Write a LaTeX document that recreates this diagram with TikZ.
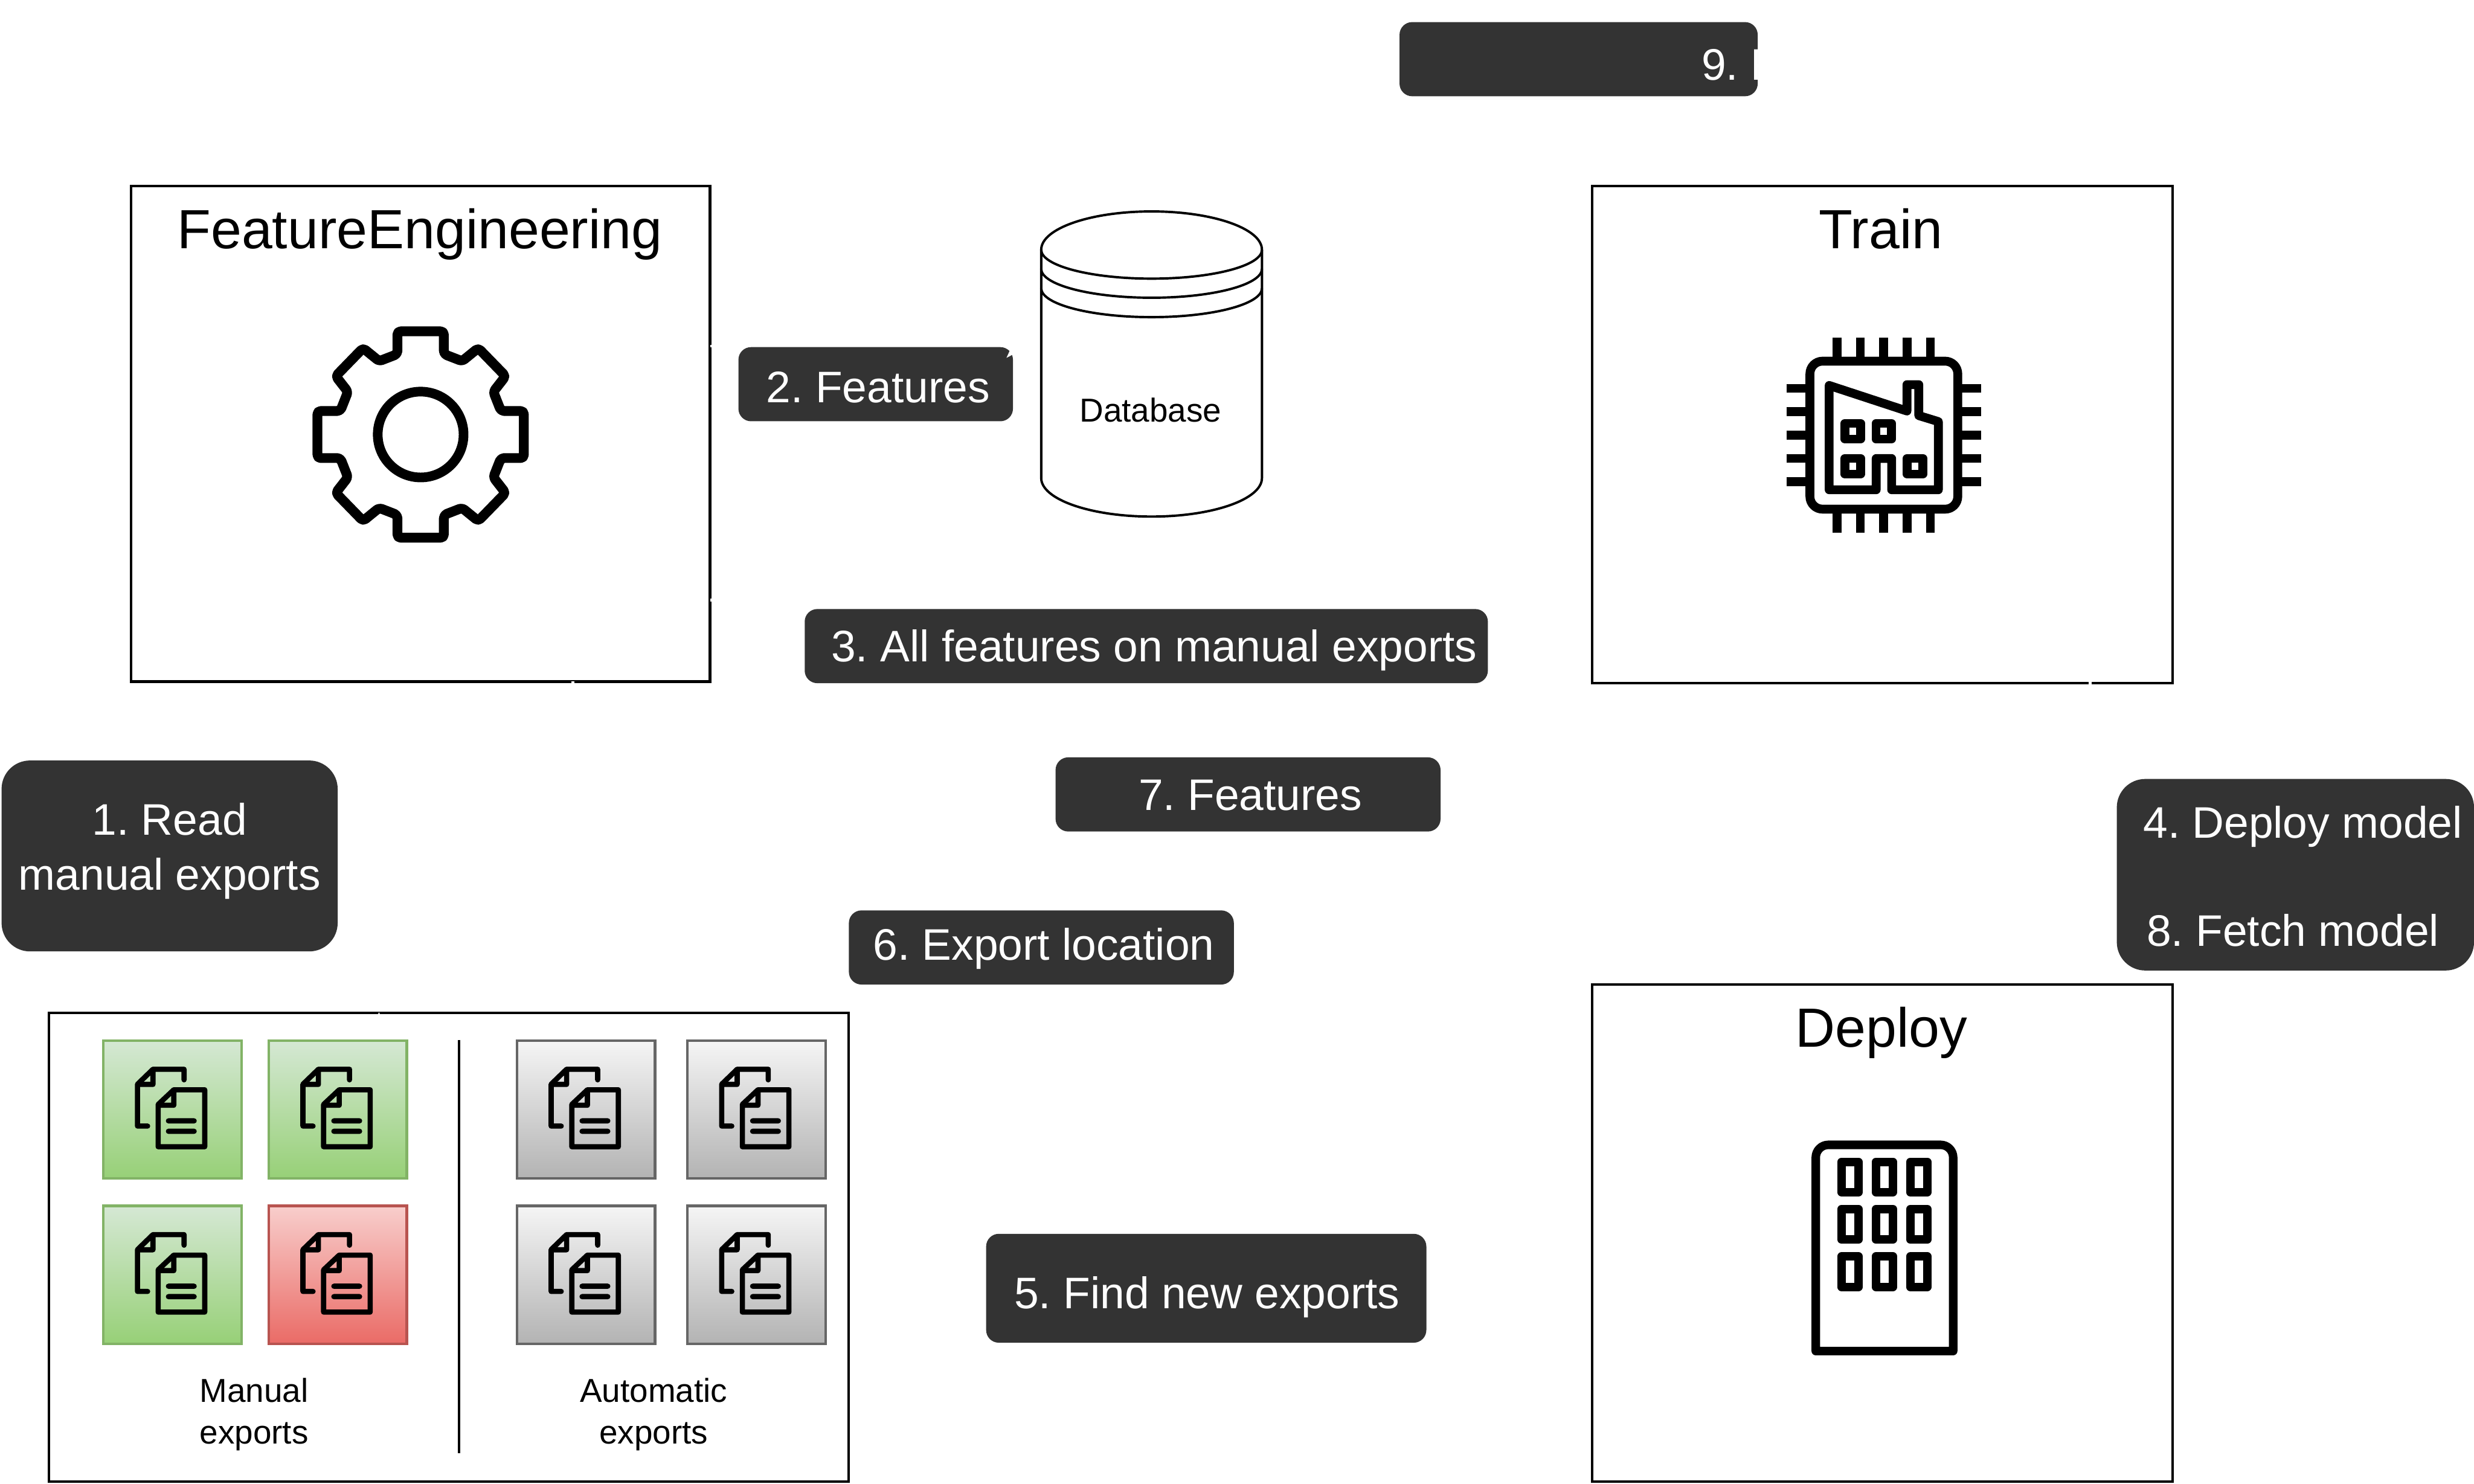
\documentclass[tikz,border=0pt]{standalone}
\usepackage{fontspec}
\setmainfont{Liberation Sans}
\frenchspacing
\definecolor{labelgray}{HTML}{333333}
\tikzset{
  docs/.pic={
    \draw[line width=3.3pt, line join=round, line cap=round, fill=none]
      (7.4,-18.8) -- (7.4,-25.5) -- (-12.3,-25.5) -- (-22.1,-16) -- (-22.1,10.5) -- (-15.7,10.5)
      (-12.3,-25.5) -- (-12.3,-15.9) -- (-22.1,-15.9)
      (-9,-3.2) -- (0.9,-12.5) -- (20.5,-12.5) -- (20.5,23.6) -- (-9,23.6) -- cycle
      (0.9,-12.5) -- (0.9,-2.7) -- (-9,-2.7)
      (-2.5,7.2) -- (13.8,7.2) (-2.5,13.8) -- (13.8,13.8);
  }
}
\begin{document}
\begin{tikzpicture}[x=1pt, y=-1pt,
    frame/.style={draw=black, line width=1.6pt, inner sep=0pt, outer sep=0pt},
    title/.style={anchor=base, inner sep=0pt, font=\fontsize{35}{42}\selectfont},
    small/.style={font=\fontsize{21}{26.5}\selectfont, align=center},
    stepbox/.style={fill=labelgray, rounded corners=8pt, inner sep=0pt, outer sep=0pt},
    steptext/.style={text=white, anchor=base, inner sep=0pt, font=\fontsize{28}{35}\selectfont},
    tile/.style={draw=#1, line width=1.6pt, minimum size=87.5pt, inner sep=0pt, outer sep=0pt},
    icon/.style={line width=5.6pt, line join=round}]
  \useasboundingbox (0,0) rectangle (1568,940.4);

  % boxes
  \node[frame, minimum width=367pt, minimum height=314pt] (fe) at (266.5,275) {};
  \node[frame, minimum width=368pt, minimum height=315pt] (train) at (1193,275.5) {};
  \node[frame, minimum width=368pt, minimum height=315pt] (deploy) at (1193,781.5) {};
  \node[frame, minimum width=507pt, minimum height=297pt] (exports) at (284.5,790.5) {};
  \node[title] (fetitle) at (266,157.5) {FeatureEngineering};
  \node[title] (traintitle) at (1192,157.5) {Train};
  \node[title] (deploytitle) at (1192.3,663.7) {Deploy};
  % small gaps in the frames
  \fill[white] (450.1,218.5) rectangle (451.1,220.3);
  \fill[white] (450.1,379.3) rectangle (451.1,381.1);
  \fill[white] (362.2,431.9) rectangle (364,433);
  \fill[white] (1323.8,432) rectangle (1325.7,434.5);
  \fill[white] (239.6,642.9) -- (240.2,641.5) -- (240.8,642.9) -- cycle;

  % gear
  \begin{scope}[shift={(266.6,275.4)}]
    \draw[line width=6.2pt, line join=round, rounded corners=2pt]
      (14.7,-65.4) -- (14.7,-51) -- (26.3,-46.5) -- (36.5,-54.8) -- (53.8,-37) -- (46.1,-27.1) -- (50.9,-14.9) -- (65.4,-14.9)
      -- (65.4,14.9) -- (50.9,14.9) -- (46.1,27.1) -- (53.8,37) -- (36.5,54.8) -- (26.3,46.5) -- (14.7,51) -- (14.7,65.4)
      -- (-14.7,65.4) -- (-14.7,51) -- (-26.3,46.5) -- (-36.5,54.8) -- (-53.8,37) -- (-46.1,27.1) -- (-50.9,14.9) -- (-65.4,14.9)
      -- (-65.4,-14.9) -- (-50.9,-14.9) -- (-46.1,-27.1) -- (-53.8,-37) -- (-36.5,-54.8) -- (-26.3,-46.5) -- (-14.7,-51) -- (-14.7,-65.4) -- cycle;
    \draw[line width=6.1pt] (0,0) circle (27.2);
  \end{scope}

  % chip
  \begin{scope}[shift={(1193.9,275.8)}, icon]
    \draw[rounded corners=8pt] (-46.8,-46.9) rectangle (46.9,46.9);
    \foreach \p in {-29.6,-14.8,0,14.8,29.6} {
      \draw (\p,-61.8) -- (\p,-46.9);
      \draw (\p,46.9) -- (\p,61.7);
      \draw (-61.7,\p) -- (-46.8,\p);
      \draw (46.9,\p) -- (61.8,\p);
    }
    \draw (-34.6,-31.5) -- (14.7,-15.3) -- (14.7,-32) -- (22.2,-32) -- (22.2,-12.4) -- (34.6,-8.6)
      -- (34.6,34.6) -- (5,34.6) -- (5,14.8) -- (-4.8,14.8) -- (-4.8,34.6) -- (-34.6,34.6) -- cycle;
    \draw (-24.6,-7.5) rectangle (-14.7,2.5);
    \draw (-4.9,-7.5) rectangle (4.9,2.5);
    \draw (-24.6,14.7) rectangle (-14.7,24.7);
    \draw (14.8,14.7) rectangle (24.8,24.7);
  \end{scope}

  % building
  \begin{scope}[icon, line width=5.4pt]
    \draw (1150.8,856.3) [rounded corners=8pt] -- (1150.8,725.6) -- (1237.9,725.6) [sharp corners] -- (1237.9,856.3) -- cycle;
    \foreach \x in {1172.5,1194.3,1216.1}
      \foreach \y in {746,776,806}
        \draw (\x-5.45,\y-9.6) rectangle (\x+5.45,\y+9.6);
  \end{scope}

  % database
  \draw[line width=1.5pt]
    (659.9,158.3) .. controls (659.9,144.8) and (691.2,134) .. (729.85,134)
      .. controls (768.5,134) and (799.8,144.8) .. (799.8,158.3)
    -- (799.8,303) .. controls (799.8,316.5) and (768.5,327.4) .. (729.85,327.4)
      .. controls (691.2,327.4) and (659.9,316.5) .. (659.9,303) -- cycle;
  \foreach \y in {158.3,170.4,182.7}
    \draw[line width=1.5pt] (659.9,\y) .. controls (659.9,\y+10.1) and (691.2,\y+18.3) .. (729.85,\y+18.3)
      .. controls (768.5,\y+18.3) and (799.8,\y+10.1) .. (799.8,\y);
  \node[small] (db) at (729.2,260) {Database};

  % exports
  \foreach \x/\y/\edge/\top/\bot/\name in {
      109.25/703.2/82b366/d5e8d4/97d077/m1, 214.1/703.2/82b366/d5e8d4/97d077/m2,
      109.25/808/82b366/d5e8d4/97d077/m3, 214.1/808/b85450/f8cecc/ea6b66/m4,
      371.4/703.2/666666/f5f5f5/b3b3b3/a1, 479.5/703.2/666666/f5f5f5/b3b3b3/a2,
      371.4/808/666666/f5f5f5/b3b3b3/a3, 479.5/808/666666/f5f5f5/b3b3b3/a4} {
    \definecolor{tileedge}{HTML}{\edge}
    \definecolor{tiletop}{HTML}{\top}
    \definecolor{tilebot}{HTML}{\bot}
    \node[tile=tileedge, top color=tiletop, bottom color=tilebot] (\name) at (\x,\y) {};
    \pic at (\x,\y) {docs};
  }
  \draw[line width=1.6pt] (291,659) -- (291,921);
  \node[small] (manual) at (161,896.5) {Manual\\exports};
  \node[small] (auto) at (414.3,896.5) {Automatic\\exports};

  % labels
  \node[stepbox, rounded corners=18pt, minimum width=213pt, minimum height=121pt] (s1) at (107.5,542.5) {};
  \node[steptext, anchor=center, align=center] (t1) at (107.5,539.5) {1. Read\\manual exports};
  \node[stepbox, minimum width=174pt, minimum height=47pt] (s2) at (555,243.5) {};
  \node[steptext] (t2) at (556.5,255.3) {2. Features};
  \fill[white] (640.2,221.7) -- (637.9,226.8) -- (642.1,224.6) -- (643,220) -- cycle;
  \node[stepbox, minimum width=433pt, minimum height=47pt] (s3) at (726.5,409.5) {};
  \node[steptext] (t3) at (731.5,419.5) {3. All features on manual exports};
  \node[stepbox, rounded corners=18pt, minimum width=226.4pt, minimum height=121.4pt] (s4) at (1454.8,554.4) {};
  \node[steptext] (t4) at (1459.5,531.3) {4. Deploy model};
  \node[steptext] (t8) at (1453.2,599.5) {8. Fetch model};
  \node[stepbox, minimum width=279pt, minimum height=69pt] (s5) at (764.5,816.5) {};
  \node[steptext] (t5) at (765,829.5) {5. Find new exports};
  \node[stepbox, minimum width=244pt, minimum height=47pt] (s6) at (660,600.5) {};
  \node[steptext] (t6) at (661.5,608.5) {6. Export location};
  \node[stepbox, minimum width=244pt, minimum height=47pt] (s7) at (791,503.5) {};
  \node[steptext] (t7) at (792.5,513.5) {7. Features};
  \node[stepbox, minimum width=227pt, minimum height=47pt] (s9) at (1000.5,37.5) {};
  \node[steptext, anchor=base west] (t9) at (1078.2,50.6) {9. F};
\end{tikzpicture}
\end{document}
